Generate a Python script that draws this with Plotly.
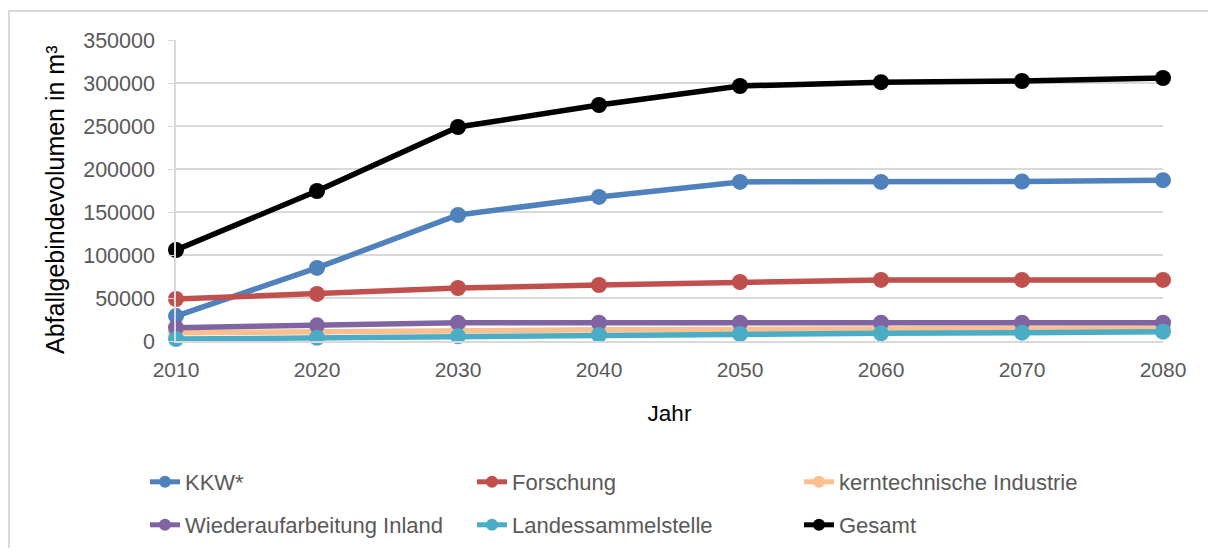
import plotly.graph_objects as go

years = [2010, 2020, 2030, 2040, 2050, 2060, 2070, 2080]
kkw = [29000, 85000, 146500, 167500, 185000, 185000, 185500, 187000]
forschung = [48800, 54700, 61600, 65100, 68600, 71000, 71000, 71000]
kerntechnik = [9500, 11000, 12500, 13000, 13500, 14000, 14500, 15000]
wiederaufarbeitung = [15500, 18200, 21300, 21300, 21300, 21300, 21300, 21300]
landessammelstelle = [2300, 3800, 5400, 7000, 8100, 8900, 9700, 10800]
gesamt = [105800, 174400, 248800, 274400, 296500, 301000, 302300, 305800]

y_ticks = [0, 50000, 100000, 150000, 200000, 250000, 300000, 350000]

series = [
    ("KKW*", kkw, "#4F81BD", "legend"),
    ("Forschung", forschung, "#C0504D", "legend"),
    ("kerntechnische Industrie", kerntechnik, "#FAC090", "legend"),
    ("Wiederaufarbeitung Inland", wiederaufarbeitung, "#8064A2", "legend2"),
    ("Landessammelstelle", landessammelstelle, "#4BACC6", "legend2"),
    ("Gesamt", gesamt, "#000000", "legend2"),
]

FONT = "Liberation Sans"
TXT = "#595959"

fig = go.Figure()
for name, vals, color, lg in series:
    fig.add_trace(go.Scatter(
        x=years, y=vals, name=name, mode="lines+markers",
        line=dict(color=color, width=5.5),
        marker=dict(color=color, size=16),
        cliponaxis=False, legend=lg,
    ))

W, H = 1200, 540
L, R, T, B = 168, 45, 32, 207
pw = W - L - R
ph = H - T - B

def px(x):
    return (x - L) / pw

def py(y):
    return (H - B - y) / ph

legend_common = dict(orientation="h", xanchor="left", yanchor="top",
                     xref="container", yref="container",
                     entrywidth=282, entrywidthmode="pixels",
                     font=dict(family=FONT, size=22, color=TXT),
                     bgcolor="rgba(0,0,0,0)", itemsizing="constant")

fig.update_layout(
    width=W, height=H,
    margin=dict(l=L, r=R, t=T, b=B, autoexpand=False),
    paper_bgcolor="white", plot_bgcolor="white",
    font=dict(family=FONT, size=21, color=TXT),
    showlegend=True,
    legend=dict(x=137 / W, y=1 - 453 / H, **legend_common),
    legend2=dict(x=137 / W, y=1 - 496 / H, **legend_common),
    xaxis=dict(
        range=[2010, 2080], tickmode="array", tickvals=years,
        ticktext=[str(y) for y in years],
        showgrid=False, zeroline=False,
        showline=True, linecolor="#D9D9D9", linewidth=1.5,
        ticks="", ticklabelstandoff=9,
        tickfont=dict(family=FONT, size=21, color=TXT),
        title=dict(text="Jahr", font=dict(family=FONT, size=22.5, color="#000000"), standoff=25),
        automargin=False,
    ),
    yaxis=dict(
        range=[0, 350000], tickmode="array", tickvals=y_ticks,
        ticktext=[str(v) for v in y_ticks],
        showgrid=True, gridcolor="#D9D9D9", gridwidth=1.5,
        zeroline=False, showline=True, linecolor="#D9D9D9", linewidth=1.5,
        ticks="outside", ticklen=6, tickcolor="#D9D9D9", ticklabelstandoff=9,
        tickfont=dict(family=FONT, size=21.5, color=TXT),
        automargin=False,
    ),
    annotations=[dict(text="Abfallgebindevolumen in m³", textangle=-90,
                      xref="paper", yref="paper", x=px(47), y=py(192),
                      xanchor="center", yanchor="middle", showarrow=False,
                      font=dict(family=FONT, size=25, color="#000000"))],
    shapes=[dict(type="rect", xref="paper", yref="paper",
                 x0=px(1), x1=px(1230), y0=py(570), y1=py(3),
                 line=dict(color="#D9D9D9", width=2), fillcolor="rgba(0,0,0,0)", layer="below")],
)

fig.write_html("out.html")
